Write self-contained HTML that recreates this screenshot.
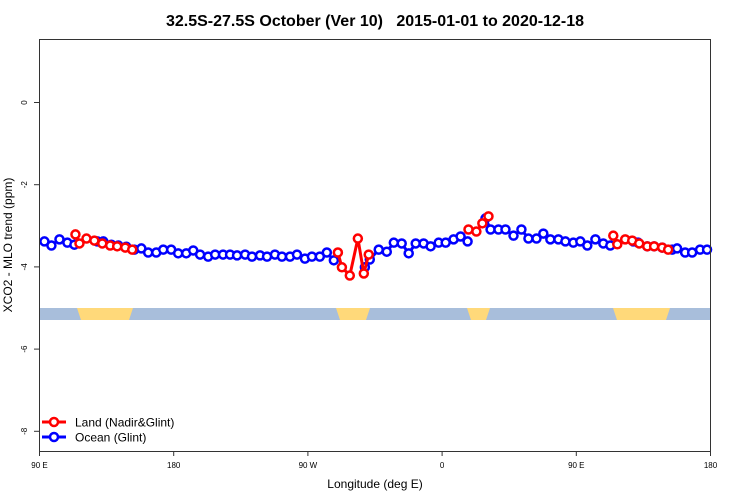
<!DOCTYPE html>
<html><head><meta charset="utf-8"><style>
body{margin:0;background:#fff;}
svg{display:block;font-family:"Liberation Sans",sans-serif;}
</style></head><body>
<svg id="chart" width="750" height="500" viewBox="0 0 750 500">
<text x="375" y="26" text-anchor="middle" font-size="16" font-weight="bold" style="white-space:pre" xml:space="preserve">32.5S-27.5S October (Ver 10)   2015-01-01 to 2020-12-18</text>
<text x="375" y="488" text-anchor="middle" font-size="12">Longitude (deg E)</text>
<text transform="translate(12,245) rotate(-90)" text-anchor="middle" font-size="12">XCO2 - MLO trend (ppm)</text>
<g id="band"></g>
<g id="axes"></g>
<g id="series"></g>
<rect x="39.5" y="39.5" width="671" height="412" fill="none" stroke="#333" stroke-width="1"/>
<g>
 <g>
  <line x1="42" y1="422" x2="66" y2="422" stroke="#f00" stroke-width="3"/>
  <circle cx="54" cy="422" r="4" fill="#fff" stroke="#f00" stroke-width="2.5"/>
  <text x="75" y="426.5" font-size="12">Land (Nadir&amp;Glint)</text>
 </g>
 <g>
  <line x1="42" y1="437" x2="66" y2="437" stroke="#00f" stroke-width="3"/>
  <circle cx="54" cy="437" r="4" fill="#fff" stroke="#00f" stroke-width="2.5"/>
  <text x="75" y="441.5" font-size="12">Ocean (Glint)</text>
 </g>
</g>
</svg>
<script>
const xTickVals=[90,180,270,360,450,540];
const xTickLabels=["90 E","180","90 W","0","90 E","180"];
const yTickVals=[0,-2,-4,-6,-8];
const landLon=[114.1,116.8,121.5,126.8,132.1,137.4,142.1,147.5,152.2,290.1,292.8,298.1,303.5,307.5,310.8,377.7,383.0,387.0,391.1,474.8,477.5,482.8,487.5,492.2,497.6,502.2,507.6,511.6];
const landVal=[-3.21,-3.43,-3.31,-3.36,-3.43,-3.48,-3.50,-3.53,-3.58,-3.65,-4.01,-4.21,-3.31,-4.16,-3.70,-3.09,-3.14,-2.94,-2.77,-3.24,-3.45,-3.33,-3.36,-3.43,-3.50,-3.50,-3.53,-3.58];
const oceanLon=[93.3,98.0,103.4,108.7,113.4,128.8,132.8,138.2,142.9,148.2,153.6,158.3,162.9,168.3,173.0,178.3,183.0,188.4,193.1,197.7,203.1,207.8,213.1,217.8,222.5,227.9,232.5,237.9,242.6,247.9,252.6,258.0,262.7,268.0,272.7,278.0,282.7,287.4,308.2,311.5,317.5,322.9,327.6,332.9,337.6,342.3,347.6,352.3,357.7,362.4,367.7,372.4,377.1,389.1,392.5,397.8,402.5,407.9,413.2,417.9,423.3,427.9,432.6,438.0,442.7,448.0,452.7,457.4,462.8,468.1,472.8,488.2,491.5,497.6,502.2,507.6,514.3,517.6,523.0,527.7,533.0,537.7];
const oceanVal=[-3.38,-3.48,-3.33,-3.41,-3.46,-3.38,-3.38,-3.46,-3.48,-3.51,-3.58,-3.55,-3.65,-3.65,-3.58,-3.58,-3.67,-3.67,-3.60,-3.70,-3.75,-3.70,-3.70,-3.70,-3.72,-3.70,-3.75,-3.72,-3.75,-3.70,-3.75,-3.75,-3.70,-3.80,-3.75,-3.75,-3.65,-3.84,-4.01,-3.82,-3.58,-3.63,-3.41,-3.43,-3.67,-3.43,-3.43,-3.50,-3.41,-3.41,-3.33,-3.26,-3.38,-2.82,-3.09,-3.09,-3.09,-3.24,-3.09,-3.31,-3.31,-3.19,-3.33,-3.33,-3.38,-3.41,-3.38,-3.48,-3.33,-3.43,-3.48,-3.38,-3.41,-3.50,-3.50,-3.53,-3.58,-3.55,-3.65,-3.65,-3.58,-3.58];
const NS="http://www.w3.org/2000/svg";
const X0=39.5,X1=710.5,LON0=90,LON1=540;
const Y0V=0,Y0P=102.5,PPU=41.1;
function xs(l){return X0+(l-LON0)/(LON1-LON0)*(X1-X0);}
function ys(v){return Y0P-(v-Y0V)*PPU;}
function mk(tag,attrs,parent){const e=document.createElementNS(NS,tag);for(const k in attrs)e.setAttribute(k,attrs[k]);parent.appendChild(e);return e;}
const band=document.getElementById('band');
let r=mk('rect',{x:X0,y:308,width:X1-X0,height:12,fill:'#a8bedb'},band);


[[77,133],[336,370],[467,490],[613,670]].forEach(p=>{
  const g=mk('polygon',{points:`${p[0]},308 ${p[1]},308 ${p[1]-4},320 ${p[0]+4},320`,fill:'#ffd97a'},band);
  
  
});
const ax=document.getElementById('axes');
xTickVals.forEach((v,i)=>{
  const x=xs(v);
  mk('line',{x1:x,y1:451.5,x2:x,y2:456,stroke:'#333'},ax);
  const t=mk('text',{x:x,y:468,'text-anchor':'middle','font-size':'8'},ax);
  t.textContent=xTickLabels[i];
  
  
});
yTickVals.forEach(v=>{
  const y=ys(v);
  mk('line',{x1:34,y1:y,x2:39.5,y2:y,stroke:'#333'},ax);
  const t=mk('text',{x:0,y:0,'text-anchor':'middle','font-size':'8',transform:`translate(27,${y}) rotate(-90)`},ax);
  t.textContent=String(v);
  
  
});
function drawSeries(lons,vals,color,name){
  const g=mk('g',{},document.getElementById('series'));
  
  
  let seg=[];
  const segs=[];
  for(let i=0;i<lons.length;i++){
    if(i>0 && lons[i]-lons[i-1]>9){segs.push(seg);seg=[];}
    seg.push(xs(lons[i]).toFixed(1)+','+ys(vals[i]).toFixed(1));
  }
  segs.push(seg);
  segs.forEach(s=>{if(s.length>1){const p=mk('polyline',{points:s.join(' '),fill:'none',stroke:color,'stroke-width':3},g);
    
    }});
  for(let i=0;i<lons.length;i++){
    const c=mk('circle',{cx:xs(lons[i]),cy:ys(vals[i]),r:4,fill:'#fff',stroke:color,'stroke-width':2.5},g);
    
    
  }
}
drawSeries(oceanLon,oceanVal,'#00f','ocean-series');
drawSeries(landLon,landVal,'#f00','land-series');
</script>
</body></html>
